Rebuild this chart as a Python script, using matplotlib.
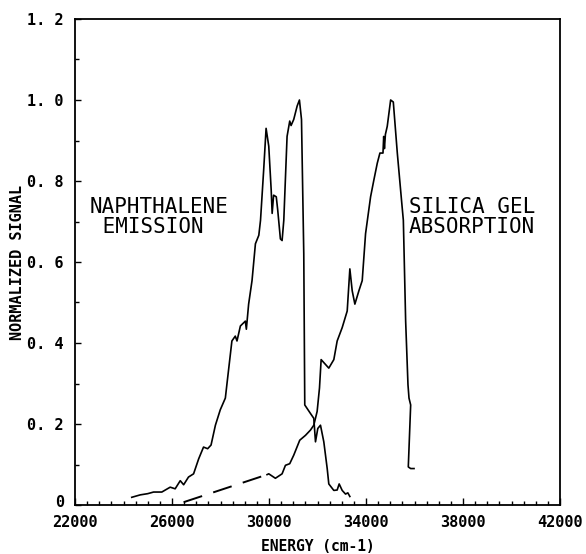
import matplotlib
matplotlib.use("Agg")
import matplotlib.pyplot as plt
from matplotlib.ticker import MultipleLocator
from matplotlib.transforms import ScaledTranslation

# naphthalene emission
emis_x = [24340, 24690, 25000, 25240, 25580, 25925, 26130, 26340, 26480, 26680,
          26890, 27100, 27300, 27470, 27610, 27790, 27990, 28200, 28270, 28470,
          28610, 28680, 28820, 29025, 29066, 29160, 29300, 29440, 29580, 29650,
          29780, 29880, 29990, 30090, 30130, 30190, 30300, 30360, 30470, 30540,
          30610, 30745, 30855, 30910, 31020, 31160, 31255, 31340, 31434, 31475,
          31710, 31847, 31917, 32012, 32123, 32260, 32400, 32466, 32673, 32811,
          32894, 33018, 33156, 33251, 33334]
emis_y = [0.019, 0.025, 0.028, 0.032, 0.032, 0.044, 0.040, 0.060, 0.050, 0.069,
          0.077, 0.114, 0.143, 0.139, 0.148, 0.197, 0.235, 0.264, 0.301, 0.405,
          0.417, 0.405, 0.442, 0.454, 0.434, 0.496, 0.554, 0.645, 0.666, 0.703,
          0.827, 0.930, 0.886, 0.778, 0.720, 0.765, 0.761, 0.728, 0.657, 0.653,
          0.703, 0.910, 0.948, 0.937, 0.952, 0.985, 1.000, 0.952, 0.620, 0.247,
          0.226, 0.214, 0.156, 0.189, 0.197, 0.156, 0.090, 0.052, 0.036, 0.037,
          0.052, 0.036, 0.027, 0.030, 0.021]

# silica gel absorption: dashed extrapolation then measured trace
dash_x = [26480, 29920]
dash_y = [0.007, 0.075]

abs_x = [29920, 29990, 30264, 30540, 30678, 30855, 31020, 31268, 31504, 31710,
         31847, 31985, 32082, 32150, 32330, 32466, 32673, 32811, 33018, 33225,
         33334, 33431, 33541, 33707, 33844, 33982, 34189, 34326, 34465, 34574,
         34700, 34730, 34760, 34800, 34876, 35016, 35126, 35291, 35470, 35540,
         35635, 35731, 35773, 35842, 35744, 35842, 35980]
abs_y = [0.075, 0.077, 0.066, 0.077, 0.098, 0.102, 0.123, 0.160, 0.172, 0.185,
         0.197, 0.231, 0.289, 0.359, 0.347, 0.338, 0.359, 0.405, 0.438, 0.479,
         0.583, 0.529, 0.496, 0.529, 0.554, 0.670, 0.761, 0.803, 0.844, 0.869,
         0.869, 0.910, 0.880, 0.915, 0.935, 1.000, 0.995, 0.869, 0.749, 0.703,
         0.454, 0.297, 0.264, 0.247, 0.094, 0.090, 0.090]

xticks = [22000, 26000, 30000, 34000, 38000, 42000]
yticks = [0, 0.2, 0.4, 0.6, 0.8, 1.0, 1.2]
yticklabels = ["0", "0. 2", "0. 4", "0. 6", "0. 8", "1. 0", "1. 2"]

mono = "DejaVu Sans Mono"

fig = plt.figure(figsize=(5.86, 5.54), dpi=100)
ax = fig.add_axes([75 / 586, 1 - 505 / 554, 485 / 586, 486 / 554])

ax.plot(emis_x, emis_y, color="black", lw=1.2)
ax.plot(abs_x, abs_y, color="black", lw=1.2)
ax.plot(dash_x, dash_y, color="black", lw=1.4, dashes=(10, 6))

ax.set_xlim(22000, 42000)
ax.set_ylim(0, 1.2)

ax.set_xticks(xticks)
ax.set_xticklabels([str(t) for t in xticks], fontfamily=mono,
                   fontweight="bold", fontsize=11)
ax.set_yticks(yticks)
ax.set_yticklabels(yticklabels, fontfamily=mono, fontweight="bold", fontsize=11)
ax.xaxis.set_minor_locator(MultipleLocator(500))
ax.yaxis.set_minor_locator(MultipleLocator(0.1))
ax.tick_params(which="both", direction="in", width=1.0)
ax.tick_params(which="major", length=5)
ax.tick_params(which="minor", length=3)
ax.tick_params(axis="x", which="major", pad=7)
ax.tick_params(axis="y", which="major", length=4, pad=8)

# the "0" sits a little above the axis line, clear of "22000"
zero = ax.get_yticklabels()[0]
zero.set_transform(zero.get_transform() + ScaledTranslation(0, 3 / 72, fig.dpi_scale_trans))

for s in ax.spines.values():
    s.set_linewidth(1.3)

ax.set_xlabel("ENERGY (cm-1)", fontfamily=mono, fontweight="bold",
              fontsize=10.5, labelpad=7)
ax.set_ylabel("NORMALIZED SIGNAL", fontfamily=mono, fontweight="bold",
              fontsize=11, labelpad=2)

ax.text(22620, 0.736, "NAPHTHALENE", fontfamily=mono, fontsize=15,
        va="center", ha="left")
ax.text(22620, 0.687, " EMISSION", fontfamily=mono, fontsize=15,
        va="center", ha="left")
ax.text(35760, 0.736, "SILICA GEL", fontfamily=mono, fontsize=15,
        va="center", ha="left")
ax.text(35760, 0.687, "ABSORPTION", fontfamily=mono, fontsize=15,
        va="center", ha="left")

fig.savefig("out.png", dpi=100)
